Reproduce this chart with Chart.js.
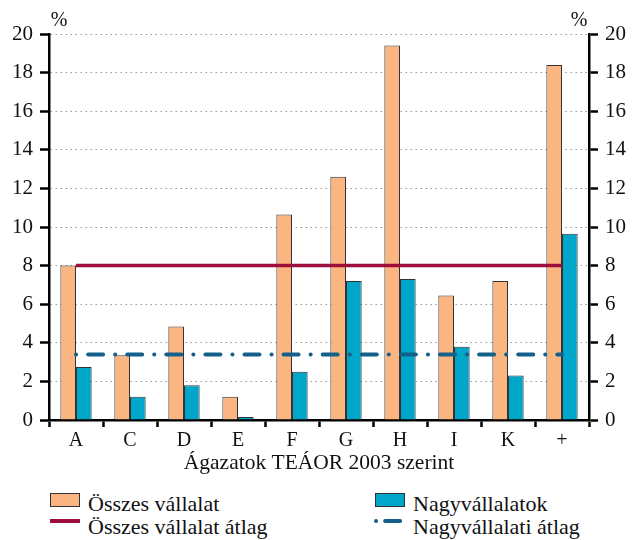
<!DOCTYPE html>
<html lang="hu">
<head>
<meta charset="utf-8">
<script src="https://cdn.jsdelivr.net/npm/chart.js"></script>
<style>
  body { margin: 0; background: #fff; font-family: 'Liberation Serif', 'Times New Roman', serif; color: #111; }
  #wrap { position: relative; width: 632px; height: 540px; }
  #chartBox { position: absolute; left: 0; top: 0; width: 632px; height: 480px; }
  .leg { position: absolute; font-size: 22px; line-height: 22px; white-space: nowrap; }
  .sw { position: absolute; }
</style>
</head>
<body>
<div id="wrap">
  <div id="chartBox"><canvas id="chart"></canvas></div>
  <!-- Legend -->
  <div class="sw" style="left:50px;top:493px;width:28px;height:12px;background:#FBB580;border:1px solid #333;"></div>
  <div class="leg" style="left:88px;top:493px;">Összes vállalat</div>
  <div class="sw" style="left:50px;top:519px;width:30px;height:4px;background:#9E0E3C;"></div>
  <div class="leg" style="left:88px;top:516px;">Összes vállalat átlag</div>
  <div class="sw" style="left:375px;top:493px;width:28px;height:12px;background:#00A6C9;border:1px solid #333;"></div>
  <div class="leg" style="left:413px;top:493px;">Nagyvállalatok</div>
  <canvas id="legDash" width="34" height="8" style="position:absolute;left:373px;top:517px;"></canvas>
  <div class="leg" style="left:413px;top:516px;">Nagyvállalati átlag</div>
</div>

<script>
  const categories = ['A', 'C', 'D', 'E', 'F', 'G', 'H', 'I', 'K', '+'];
  const osszes = [8.0, 3.35, 4.85, 1.2, 10.65, 12.6, 19.4, 6.45, 7.2, 18.4];
  const nagy = [2.75, 1.2, 1.8, 0.15, 2.5, 7.2, 7.3, 3.8, 2.3, 9.65];
  const osszesAtlag = 8.0;
  const nagyAtlag = 3.4;
  const yTicks = [0, 2, 4, 6, 8, 10, 12, 14, 16, 18, 20];

  const serif = "'Liberation Serif', 'Times New Roman', serif";
  const dashPattern = [0.1, 12, 15, 12];

  // "%" above both axes
  const percentPlugin = {
    id: 'percent',
    afterDraw(chart) {
      const ctx = chart.ctx;
      const area = chart.chartArea;
      ctx.save();
      ctx.font = "20px " + serif;
      ctx.fillStyle = '#111';
      ctx.textAlign = 'center';
      ctx.textBaseline = 'alphabetic';
      ctx.fillText('%', area.left + 10, area.top - 8);
      ctx.fillText('%', area.right - 10, area.top - 8);
      ctx.restore();
    }
  };

  const ctx = document.getElementById('chart').getContext('2d');
  new Chart(ctx, {
    type: 'bar',
    data: {
      labels: categories,
      datasets: [
        {
          type: 'line',
          label: 'Összes vállalat átlag',
          data: categories.map(() => osszesAtlag),
          borderColor: '#9E0E3C',
          borderWidth: 3.5,
          pointRadius: 0,
          order: 0
        },
        {
          type: 'line',
          label: 'Nagyvállalati átlag',
          data: categories.map(() => nagyAtlag),
          borderColor: '#15608A',
          borderWidth: 4,
          borderDash: dashPattern,
          borderCapStyle: 'round',
          pointRadius: 0,
          order: 0
        },
        {
          label: 'Összes vállalat',
          data: osszes,
          backgroundColor: '#FBB580',
          borderColor: '#333',
          borderWidth: 1,
          order: 1
        },
        {
          label: 'Nagyvállalatok',
          data: nagy,
          backgroundColor: '#00A6C9',
          borderColor: '#333',
          borderWidth: 1,
          order: 1
        }
      ]
    },
    options: {
      responsive: true,
      maintainAspectRatio: false,
      animation: false,
      layout: { padding: { top: 34, left: 0, right: 0, bottom: 0 } },
      plugins: { legend: { display: false }, tooltip: { enabled: false } },
      datasets: { bar: { categoryPercentage: 0.58, barPercentage: 1.0 } },
      scales: {
        x: {
          offset: true,
          afterFit: s => { s.height = 60; },
          grid: { offset: true, drawOnChartArea: false, drawTicks: true, tickLength: 7, tickColor: '#000', tickWidth: 2.5 },
          border: { color: '#000', width: 2.5 },
          ticks: { color: '#111', font: { family: serif, size: 20 }, padding: 2 },
          title: {
            display: true,
            text: 'Ágazatok TEÁOR 2003 szerint',
            color: '#111',
            font: { family: serif, size: 21.5 },
            padding: { top: 0, bottom: 4 }
          }
        },
        y: {
          position: 'left',
          min: 0, max: 20,
          afterFit: s => { s.width = 49; },
          afterBuildTicks: s => { s.ticks = yTicks.map(v => ({ value: v })); },
          grid: { color: '#999', lineWidth: 1, drawTicks: true, tickLength: 9, tickColor: '#000', tickWidth: 2.5, tickBorderDash: [] },
          border: { color: '#000', width: 2.5, dash: [1.5, 3.5] },
          ticks: { color: '#111', font: { family: serif, size: 21 }, padding: 7 }
        },
        y2: {
          position: 'right',
          min: 0, max: 20,
          afterFit: s => { s.width = 43; },
          afterBuildTicks: s => { s.ticks = yTicks.map(v => ({ value: v })); },
          grid: { drawOnChartArea: false, drawTicks: true, tickLength: 9, tickColor: '#000', tickWidth: 2.5 },
          border: { color: '#000', width: 2.5 },
          ticks: { color: '#111', font: { family: serif, size: 21 }, padding: 7 }
        }
      }
    },
    plugins: [percentPlugin]
  });

  // legend sample for the dash-dot line
  const lc = document.getElementById('legDash').getContext('2d');
  lc.strokeStyle = '#15608A';
  lc.lineWidth = 4;
  lc.lineCap = 'round';
  lc.setLineDash([0.1, 9, 15, 12]);
  lc.beginPath();
  lc.moveTo(3, 4);
  lc.lineTo(33, 4);
  lc.stroke();
</script>
</body>
</html>
